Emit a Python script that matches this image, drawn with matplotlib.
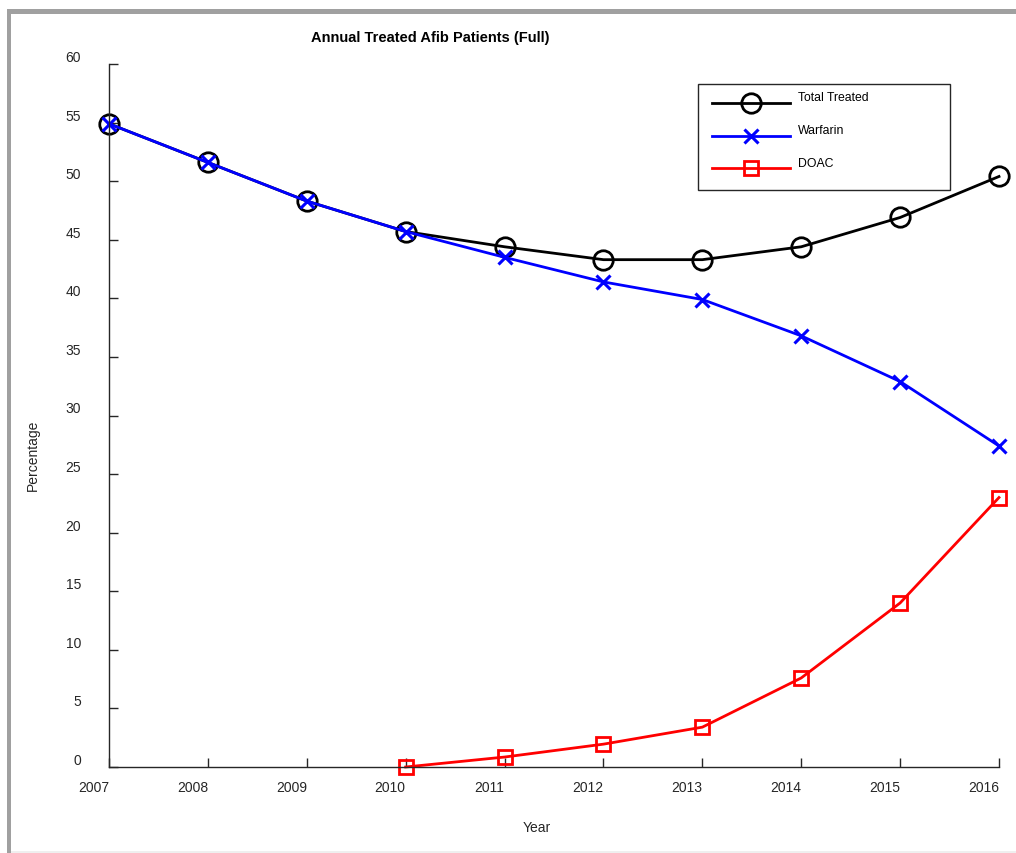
import numpy as np
import matplotlib
matplotlib.use("Agg")
import matplotlib.pyplot as plt
from matplotlib.patches import Rectangle
from matplotlib.transforms import ScaledTranslation

plt.rcParams['font.family'] = ['Liberation Sans', 'DejaVu Sans']

# data
years = [2007, 2008, 2009, 2010, 2011, 2012, 2013, 2014, 2015, 2016]
total_treated = [54.9, 51.6, 48.3, 45.7, 44.4, 43.3, 43.3, 44.4, 46.9, 50.4]
warfarin = [54.9, 51.6, 48.3, 45.7, 43.5, 41.4, 39.9, 36.8, 32.9, 27.4]
doac_years = [2010, 2011, 2012, 2013, 2014, 2015, 2016]
doac = [0.0, 0.85, 1.95, 3.4, 7.6, 14.0, 23.0]
y_ticks = [0, 5, 10, 15, 20, 25, 30, 35, 40, 45, 50, 55, 60]

W, H = 1016, 854
fig = plt.figure(figsize=(W / 100, H / 100), dpi=100)

# grey frame like the matlab window
fig.patches.append(Rectangle((7 / W, 0), 3.5 / W, 1 - 10 / H, transform=fig.transFigure,
                             facecolor='#a0a0a0', edgecolor='none'))
fig.patches.append(Rectangle((7 / W, 1 - 14.5 / H), 1, 4.5 / H, transform=fig.transFigure,
                             facecolor='#a0a0a0', edgecolor='none'))
fig.patches.append(Rectangle((10.5 / W, 0), 1, 2 / H, transform=fig.transFigure,
                             facecolor='#efefef', edgecolor='none'))

ax = fig.add_axes([109 / W, 1 - 768 / H, 890 / W, 703 / H])

ax.plot(years, total_treated, color='black', lw=2.0, marker='o', ms=14,
        mfc='none', mew=2.0, label='Total Treated', clip_on=False)
ax.plot(years, warfarin, color='#0000ff', lw=2.0, marker='x', ms=9.5,
        mew=2.2, label='Warfarin', clip_on=False)
ax.plot(doac_years, doac, color='#ff0000', lw=2.0, marker='s', ms=10.5,
        mfc='none', mew=2.0, label='DOAC', clip_on=False)

ax.set_xlim(2007, 2016)
ax.set_ylim(0, 60)
ax.set_xticks(years)
ax.set_yticks(y_ticks)
ax.set_xticklabels([str(y) for y in years])
ax.set_yticklabels([str(v) for v in y_ticks])

for s in ['top', 'right']:
    ax.spines[s].set_visible(False)
for s in ['left', 'bottom']:
    ax.spines[s].set_color('#262626')
    ax.spines[s].set_linewidth(1.0)

ax.tick_params(axis='both', direction='in', length=6.5, width=1.0, colors='#262626',
               labelsize=10, labelcolor='#262626')
ax.tick_params(axis='y', pad=20)
ax.tick_params(axis='x', pad=9.5)
plt.setp(ax.get_xticklabels(), ha='right')
plt.setp(ax.get_yticklabels(), va='bottom')

fig.text(430 / W, 1 - 38 / H, 'Annual Treated Afib Patients (Full)', ha='center', va='center',
         fontsize=10.5, fontweight='bold')
fig.text(33 / W, 1 - 455 / H, 'Percentage', rotation=90, ha='center', va='center',
         fontsize=10, color='#262626')
fig.text(537 / W, 1 - 828 / H, 'Year', ha='center', va='center', fontsize=10, color='#262626')

leg = ax.legend(loc='upper left', bbox_to_anchor=(698 / W, 1 - 187 / H, 252 / W, 102 / H),
                bbox_transform=fig.transFigure, borderaxespad=0, mode='expand', fontsize=8.8,
                handlelength=6.4, handletextpad=0.6, labelspacing=1.7, borderpad=1.15,
                fancybox=False, framealpha=1, edgecolor='#262626')
leg.get_frame().set_linewidth(1.0)
# matlab puts the legend text a bit above the line
for t in leg.get_texts():
    t.set_transform(t.get_transform() + ScaledTranslation(0, 7 / 100, fig.dpi_scale_trans))

fig.savefig('out.png', dpi=100)
